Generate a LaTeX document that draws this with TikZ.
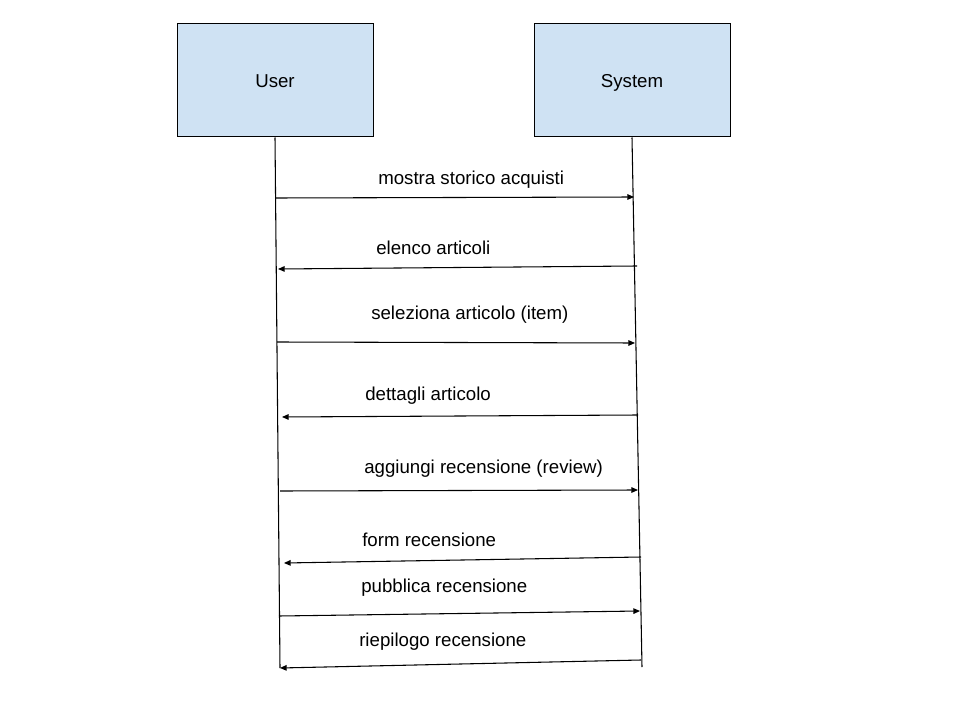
\documentclass[tikz,border=0pt]{standalone}
\usepackage{fontspec}
\setmainfont{Liberation Sans}
\usepackage{xcolor}
\usetikzlibrary{arrows.meta,positioning}
\definecolor{ink}{HTML}{000000}
\definecolor{actorfill}{HTML}{CFE2F3}
\tikzset{
  font=\fontsize{14}{17}\selectfont,
  >={Triangle[length=5pt,width=4.2pt]},
  actor/.style={draw=ink, fill=actorfill, line width=.75pt,
    minimum width=147pt, minimum height=84.75pt, inner sep=0pt,
    text height=10pt, text depth=0pt},
  lifeline/.style={draw=ink, line width=.8pt},
  msg/.style={draw=ink, line width=.8pt, ->},
  lbl/.style={anchor=base west, inner sep=0pt, text=ink}
}
\begin{document}
\begin{tikzpicture}[x=0.75pt,y=-0.75pt]
  \path[fill=white] (0,0) rectangle (960,720);

  % ------------------------------------------------------------------
  % actors and lifelines
  \node[actor] (user) at (275,80.5) {User};
  \node[actor] (system) at (632,80.5) {System};
  \coordinate (userEnd) at (280,668);
  \coordinate (systemEnd) at (642,667);
  \draw[lifeline] (user.south) -- (userEnd);
  \draw[lifeline] (system.south) -- (systemEnd);

  % ------------------------------------------------------------------
  % messages
  \coordinate (m1a) at (276,198);   \coordinate (m1b) at (634,197);
  \coordinate (m2a) at (637,266);   \coordinate (m2b) at (278,269);
  \coordinate (m3a) at (277,342);   \coordinate (m3b) at (635,343);
  \coordinate (m4a) at (638,415);   \coordinate (m4b) at (282,417);
  \coordinate (m5a) at (280,491);   \coordinate (m5b) at (638,490);
  \coordinate (m6a) at (641,557);   \coordinate (m6b) at (284,563);
  \coordinate (m7a) at (279,616);   \coordinate (m7b) at (640,611);
  \coordinate (m8a) at (641,660);   \coordinate (m8b) at (280,668);

  \draw[msg] (m1a) -- (m1b);
  \draw[msg] (m2a) -- (m2b);
  \draw[msg] (m3a) -- (m3b);
  \draw[msg] (m4a) -- (m4b);
  \draw[msg] (m5a) -- (m5b);
  \draw[msg] (m6a) -- (m6b);
  \draw[msg] (m7a) -- (m7b);
  \draw[msg] (m8a) -- (m8b);

  \node[lbl] (l1) at (378,185) {mostra storico acquisti};
  \node[lbl] (l2) at (376,255) {elenco articoli};
  \node[lbl] (l3) at (371,320) {seleziona articolo (item)};
  \node[lbl] (l4) at (365,400) {dettagli articolo};
  \node[lbl] (l5) at (364,473) {aggiungi recensione (review)};
  \node[lbl] (l6) at (362,546) {form recensione};
  \node[lbl] (l7) at (361,592) {pubblica recensione};
  \node[lbl] (l8) at (359,646) {riepilogo recensione};
\end{tikzpicture}
\end{document}
